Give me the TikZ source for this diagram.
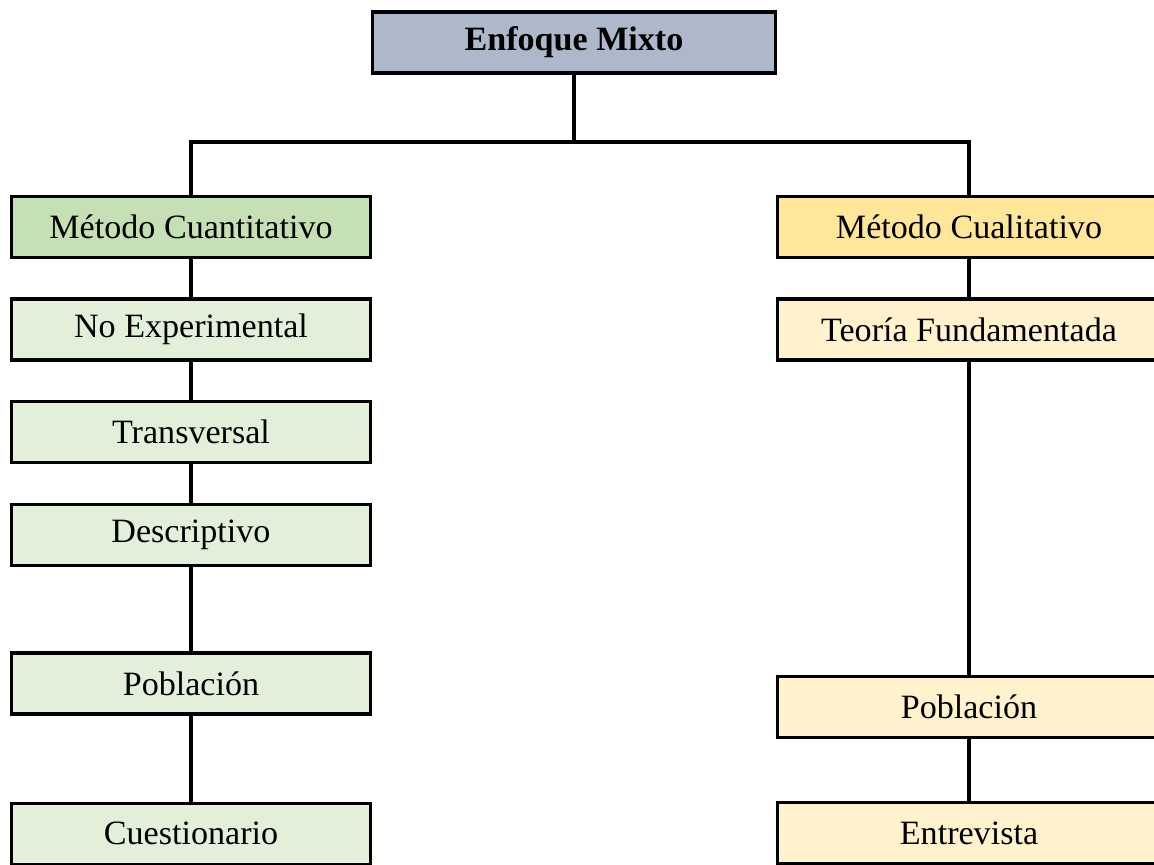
\documentclass[tikz,border=0pt]{standalone}
\usepackage{fontspec}
\setmainfont{Liberation Serif}
\usetikzlibrary{positioning}
\definecolor{mxTop}{HTML}{ADB9CA}
\definecolor{mxQuanHead}{HTML}{C5E0B4}
\definecolor{mxQuan}{HTML}{E2F0D9}
\definecolor{mxQualHead}{HTML}{FFE699}
\definecolor{mxQual}{HTML}{FFF2CC}

\begin{document}
\begin{tikzpicture}[
  box/.style={draw=black, line width=1.9pt, minimum width=7.18cm, minimum height=1.22cm, inner sep=0pt, font=\fontsize{19.4}{23}\selectfont},
  root/.style={box, fill=mxTop, minimum width=8.06cm, font=\fontsize{19.4}{23}\selectfont\bfseries},
  quanhead/.style={box, fill=mxQuanHead},
  quan/.style={box, fill=mxQuan},
  qualhead/.style={box, fill=mxQualHead, minimum width=7.66cm},
  qual/.style={box, fill=mxQual, minimum width=7.66cm},
  link/.style={line width=1.9pt}
]
  \useasboundingbox (0,0) rectangle (23.08,-17.3);

  \node[root] (mixto) at (11.48,-0.85) {Enfoque Mixto};
  \coordinate (split) at (11.48,-2.84);

  % rama cuantitativa
  \node[quanhead] (cuanti) at (3.82,-4.54) {Método Cuantitativo};
  \node[quan, below=0.76cm of cuanti] (noexp) {No Experimental};
  \node[quan, below=0.76cm of noexp] (transv) {Transversal};
  \node[quan, below=0.78cm of transv] (descr) {Descriptivo};
  \node[quan, below=1.68cm of descr] (poblq) {Población};
  \node[quan, below=1.72cm of poblq] (cuest) {Cuestionario};

  % rama cualitativa
  \node[qualhead] (cuali) at (19.38,-4.54) {Método Cualitativo};
  \node[qual, below=0.76cm of cuali] (teoria) {Teoría Fundamentada};
  \node[qual, below=6.26cm of teoria] (poblc) {Población};
  \node[qual, below=1.24cm of poblc] (entrev) {Entrevista};

  \draw[link] (mixto) -- (split);
  \draw[link] (cuanti.north) |- (split) -| (cuali.north);
  \draw[link] (cuanti) -- (noexp);
  \draw[link] (noexp) -- (transv);
  \draw[link] (transv) -- (descr);
  \draw[link] (descr) -- (poblq);
  \draw[link] (poblq) -- (cuest);
  \draw[link] (cuali) -- (teoria);
  \draw[link] (teoria) -- (poblc);
  \draw[link] (poblc) -- (entrev);
\end{tikzpicture}
\end{document}
